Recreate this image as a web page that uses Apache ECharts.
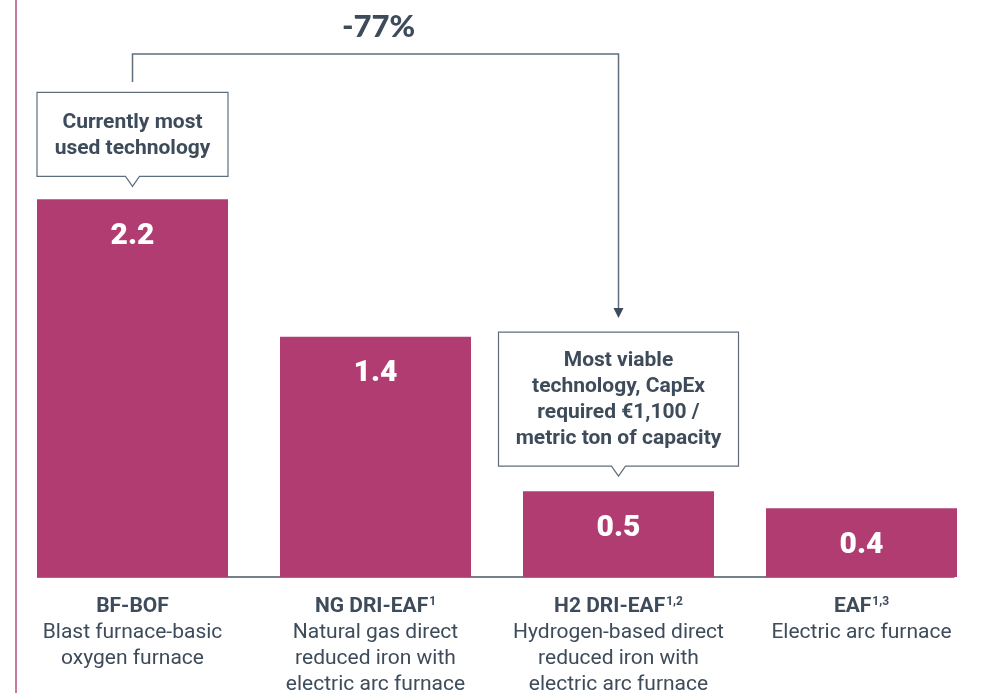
<!DOCTYPE html>
<html>
<head>
<meta charset="utf-8">
<script src="https://cdn.jsdelivr.net/npm/echarts@6/dist/echarts.min.js"></script>
<style>
  html, body { margin: 0; padding: 0; background: #fff; }
  #main { width: 983px; height: 693px; }
</style>
</head>
<body>
<div id="main"></div>
<script>
var codes = ['BF-BOF', 'NG DRI-EAF', 'H2 DRI-EAF', 'EAF'];
var notes = ['', '1', '1,2', '1,3'];
var descriptions = [
  'Blast furnace-basic\noxygen furnace',
  'Natural gas direct\nreduced iron with\nelectric arc furnace',
  'Hydrogen-based direct\nreduced iron with\nelectric arc furnace',
  'Electric arc furnace'
];
var values = [2.2, 1.4, 0.5, 0.4];
var changeLabel = '-77%';
var note1 = 'Currently most\nused technology';
var note2 = 'Most viable\ntechnology, CapEx\nrequired €1,100 /\nmetric ton of capacity';

var textColor = '#3d4b5a';
var barColor = '#b13c72';
var lineColor = '#5f6e7c';

var chart = echarts.init(document.getElementById('main'));

var option = {
  animation: false,
  grid: { left: 11, right: 0, top: 62, bottom: 116, outerBoundsMode: 'none' },
  xAxis: {
    type: 'category',
    data: codes,
    axisLine: { show: false },
    axisTick: { show: false },
    axisLabel: {
      margin: 17,
      interval: 0,
      formatter: function (v, i) {
        var s = '{b|' + v + '}';
        if (notes[i]) s += '{sup|' + notes[i] + '}';
        return s + '\n{d|' + descriptions[i].split('\n').join('}\n{d|') + '}';
      },
      rich: {
        b: { fontFamily: 'Roboto', fontWeight: 'bold', fontSize: 21, color: textColor, lineHeight: 26 },
        sup: { fontFamily: 'Roboto', fontWeight: 'bold', fontSize: 12, color: textColor, lineHeight: 26, verticalAlign: 'top', padding: [2, 0, 0, 1] },
        d: { fontFamily: 'Roboto', fontSize: 21, color: textColor, lineHeight: 26 }
      }
    }
  },
  yAxis: {
    type: 'value',
    min: 0,
    max: 3,
    show: false
  },
  series: [{
    type: 'bar',
    data: values,
    barWidth: 191,
    itemStyle: { color: barColor },
    label: {
      show: true,
      position: 'insideTop',
      distance: 22,
      color: '#fff',
      fontFamily: 'Roboto',
      fontWeight: 900,
      fontSize: 30,
      formatter: function (p) { return p.value.toFixed(1); }
    }
  }]
};
chart.setOption(option);

// annotations placed from the chart's own scales
var pts = values.map(function (v, i) { return chart.convertToPixel({ seriesIndex: 0 }, [i, v]); });
var base = chart.convertToPixel({ seriesIndex: 0 }, [0, 0])[1];
var x0 = pts[0][0], x2 = pts[2][0];
var bracketY = 54;

function callout(cx, bottom, w, h, txt) {
  var l = cx - w / 2, r = cx + w / 2, t = bottom - h;
  return [{
    type: 'polygon',
    shape: { points: [[l, t], [r, t], [r, bottom], [cx + 7, bottom], [cx, bottom + 10], [cx - 7, bottom], [l, bottom]] },
    style: { fill: '#fff', stroke: lineColor, lineWidth: 1.2 }
  }, {
    type: 'text',
    x: cx, y: t + h / 2 + 1,
    style: {
      text: txt, align: 'center', verticalAlign: 'middle',
      fontFamily: 'Roboto', fontWeight: 'bold', fontSize: 21, lineHeight: 26, fill: textColor
    }
  }];
}

var graphics = [
  { type: 'line', shape: { x1: 16, y1: 0, x2: 16, y2: 693 }, style: { stroke: '#c97a9f', lineWidth: 2 } },
  { type: 'line', shape: { x1: pts[0][0] - 95.5, y1: base, x2: pts[3][0] + 93, y2: base }, style: { stroke: '#4a5662', lineWidth: 1.5 } },
  { type: 'polyline', shape: { points: [[x0, 82], [x0, bracketY], [x2, bracketY], [x2, 310]] }, style: { stroke: lineColor, lineWidth: 1.5, fill: null } },
  { type: 'polygon', shape: { points: [[x2 - 5, 308], [x2 + 5, 308], [x2, 318]] }, style: { fill: '#3d4b5a' } },
  {
    type: 'text', x: (x0 + x2) / 2 + 3, y: 27,
    style: { text: changeLabel, align: 'center', verticalAlign: 'middle', fontFamily: 'Lato', fontWeight: 900, fontSize: 31, fill: textColor }
  }
];
graphics = graphics.concat(callout(x0, pts[0][1] - 23, 191, 84, note1));
graphics = graphics.concat(callout(x2, pts[2][1] - 25, 240, 134, note2));

chart.setOption({ graphic: graphics });
</script>
</body>
</html>
